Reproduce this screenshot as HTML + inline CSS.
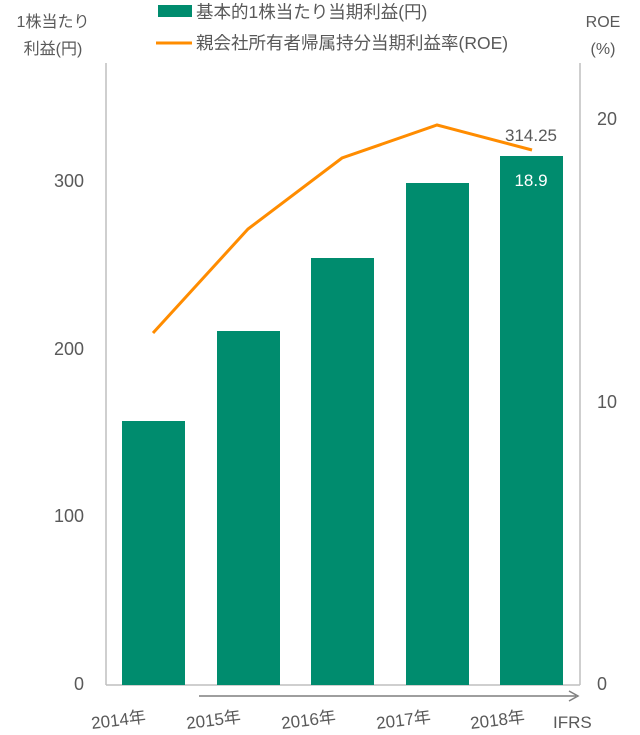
<!DOCTYPE html>
<html><head><meta charset="utf-8"><style>
body{margin:0;background:#fff;}
svg text{font-family:"Liberation Sans","Noto Sans CJK JP",sans-serif;fill:#595959;}
</style></head><body>
<svg width="640" height="730" xmlns="http://www.w3.org/2000/svg">
<g font-size="16">
<text x="53" y="27" text-anchor="middle">1株当たり</text>
<text x="53" y="54" text-anchor="middle">利益(円)</text>
<text x="603" y="27" text-anchor="middle">ROE</text>
<text x="603" y="54" text-anchor="middle">(%)</text>
</g>
<g font-size="17.5">
<rect x="158" y="5" width="34" height="12" fill="#008c6e"/>
<text x="196" y="18">基本的1株当たり当期利益(円)</text>
<line x1="156" y1="43" x2="192" y2="43" stroke="#ff8c00" stroke-width="3"/>
<text x="196" y="49">親会社所有者帰属持分当期利益率(ROE)</text>
</g>
<line x1="106" y1="63" x2="106" y2="685" stroke="#bfbfbf" stroke-width="1.5"/>
<line x1="580" y1="63" x2="580" y2="685" stroke="#bfbfbf" stroke-width="1.5"/>
<line x1="106" y1="685" x2="580" y2="685" stroke="#bfbfbf" stroke-width="1.5"/>
<g font-size="18" text-anchor="end">
<text x="84" y="690">0</text><text x="84" y="522">100</text><text x="84" y="355">200</text><text x="84" y="187">300</text>
</g>
<g font-size="18">
<text x="597" y="690">0</text><text x="597" y="408">10</text><text x="597" y="125">20</text>
</g>
<g fill="#008c6e">
<rect x="122" y="421" width="63" height="264"/>
<rect x="217" y="331" width="63" height="354"/>
<rect x="311" y="258" width="63" height="427"/>
<rect x="406" y="183" width="63" height="502"/>
<rect x="500" y="156" width="63" height="529"/>
</g>
<polyline points="153,333 248,229 342,158 437,125 532,150" fill="none" stroke="#ff8c00" stroke-width="3"/>
<text x="531" y="141" font-size="17" text-anchor="middle">314.25</text>
<text x="531" y="186" font-size="17" text-anchor="middle" style="fill:#fff">18.9</text>
<line x1="199" y1="696" x2="576" y2="696" stroke="#7f7f7f" stroke-width="1.5"/>
<polyline points="569,691 578,696 569,701" fill="none" stroke="#7f7f7f" stroke-width="1.5"/>
<g font-size="17">
<text transform="translate(92,729) rotate(-7)">2014年</text>
<text transform="translate(187,729) rotate(-7)">2015年</text>
<text transform="translate(282,729) rotate(-7)">2016年</text>
<text transform="translate(377,729) rotate(-7)">2017年</text>
<text transform="translate(471,729) rotate(-7)">2018年</text>
<text x="553" y="728">IFRS</text>
</g>
</svg>
</body></html>
